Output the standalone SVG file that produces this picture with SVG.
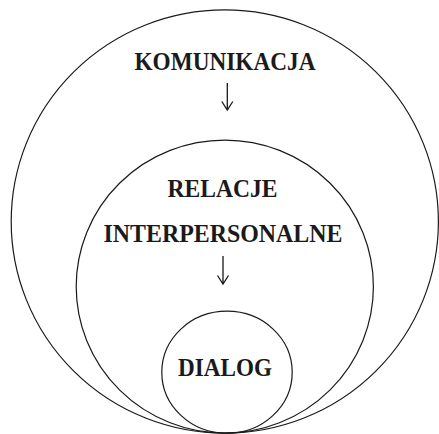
<svg xmlns="http://www.w3.org/2000/svg" width="439" height="434" viewBox="0 0 439 434">
<style>
.ring{fill:none;stroke:#1a1a1a;stroke-width:1.2}
.lbl{font-family:"Liberation Serif","Times New Roman",serif;font-weight:bold;font-size:25px;fill:#1a1a1a;text-anchor:middle}
.arr{fill:none;stroke:#1a1a1a;stroke-width:1.3}
</style>
<rect width="439" height="434" fill="#fff"/>
<g id="komunikacja">
<ellipse class="ring" cx="224.8" cy="221.5" rx="213.6" ry="211.6"/>
<text class="lbl" x="225" y="69.5" textLength="181" lengthAdjust="spacingAndGlyphs">KOMUNIKACJA</text>
</g>
<g id="relacje">
<ellipse class="ring" cx="224.8" cy="286.6" rx="148.6" ry="146.5"/>
<text class="lbl" x="222.5" y="196.5" textLength="110" lengthAdjust="spacingAndGlyphs">RELACJE</text>
<text class="lbl" x="223" y="242" textLength="239" lengthAdjust="spacingAndGlyphs">INTERPERSONALNE</text>
</g>
<g id="dialog">
<ellipse class="ring" cx="227" cy="372.2" rx="65.2" ry="61"/>
<text class="lbl" x="225" y="375.5" textLength="94" lengthAdjust="spacingAndGlyphs">DIALOG</text>
</g>
<g id="connectors">
<path class="arr" d="M227.3,83 V110 M221.8,101.5 L227.3,110 L232.8,101.5"/>
<path class="arr" d="M223,256 V284 M217.5,275.5 L223,284 L228.5,275.5"/>
</g>
</svg>
